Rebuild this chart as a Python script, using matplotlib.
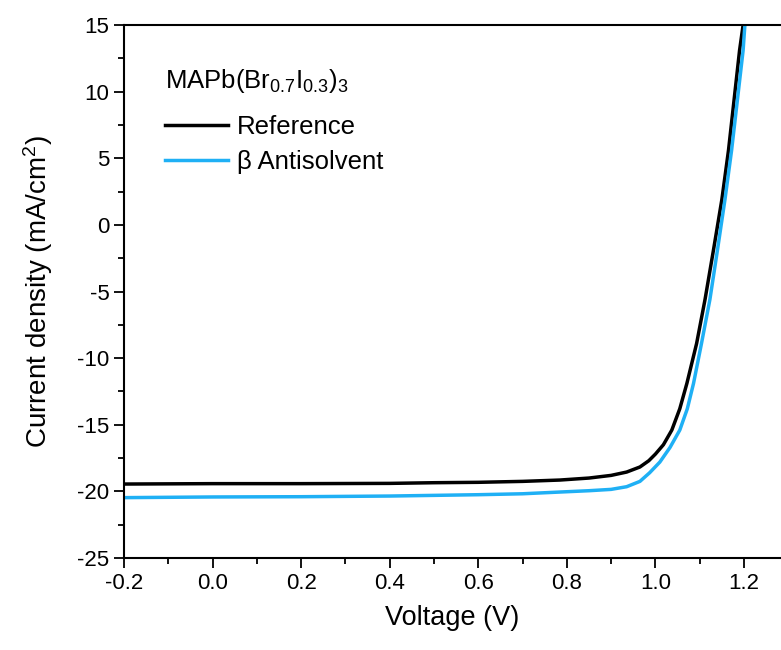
import numpy as np
import matplotlib
matplotlib.use("Agg")
import matplotlib.pyplot as plt
from matplotlib.ticker import MultipleLocator

plt.rcParams['font.family'] = ['Liberation Sans', 'DejaVu Sans']
plt.rcParams['mathtext.fontset'] = 'custom'
plt.rcParams['mathtext.rm'] = 'Liberation Sans'
plt.rcParams['mathtext.it'] = 'Liberation Sans:italic'

# J-V data
v_ref = [-0.2, 0.0, 0.2, 0.4, 0.5, 0.6, 0.7, 0.784, 0.85, 0.9, 0.935, 0.965,
         0.985, 1.0, 1.018, 1.037, 1.055, 1.071, 1.093, 1.112, 1.131, 1.150,
         1.165, 1.19, 1.198]
j_ref = [-19.45, -19.42, -19.42, -19.4, -19.35, -19.32, -19.25, -19.15, -19.0,
         -18.8, -18.55, -18.17, -17.7, -17.2, -16.5, -15.4, -13.8, -11.9, -8.9,
         -5.6, -1.9, 1.9, 5.6, 13.1, 15.0]

v_beta = [-0.2, 0.0, 0.2, 0.4, 0.5, 0.6, 0.7, 0.784, 0.85, 0.9, 0.935, 0.965,
          0.987, 1.01, 1.033, 1.055, 1.072, 1.086, 1.104, 1.123, 1.140, 1.157,
          1.172, 1.198, 1.202]
j_beta = [-20.47, -20.42, -20.4, -20.35, -20.3, -20.25, -20.18, -20.05, -19.95,
          -19.85, -19.65, -19.25, -18.6, -17.8, -16.7, -15.4, -13.8, -11.9, -8.9,
          -5.6, -1.9, 1.9, 5.6, 13.1, 15.0]

fig = plt.figure(figsize=(7.81, 6.5), dpi=100)
ax = fig.add_axes([124/781, 92/650, 1 - 124/781, 533/650])

l1, = ax.plot(v_ref, j_ref, color='black', lw=2.5, label='Reference')
l2, = ax.plot(v_beta, j_beta, color='#1fb0f5', lw=2.5, label='\u03b2 Antisolvent')

ax.set_xlim(-0.2, 1.2 + 37 * 1.4 / 620)
ax.set_ylim(-25, 15)
ax.xaxis.set_minor_locator(MultipleLocator(0.1))
ax.yaxis.set_minor_locator(MultipleLocator(2.5))
ax.set_xticks(np.arange(-0.2, 1.21, 0.2))
ax.set_xticklabels(['-0.2', '0.0', '0.2', '0.4', '0.6', '0.8', '1.0', '1.2'])
ax.set_yticks(np.arange(-25, 16, 5))
ax.set_yticklabels([str(int(t)) for t in np.arange(-25, 16, 5)])
ax.tick_params(which='major', direction='out', length=7, width=1.3, labelsize=16)
ax.tick_params(which='minor', direction='out', length=4, width=1.3)
ax.spines['right'].set_visible(False)
for s in ['left', 'bottom', 'top']:
    ax.spines[s].set_linewidth(1.5)

ax.set_xlabel('Voltage (V)', fontsize=19.5, labelpad=8)
ax.set_ylabel('Current density (mA/cm$^2$)', fontsize=20, labelpad=16)

# legend title written separately, then the two lines below it
ax.text(0.0624, 0.895, 'MAPb(Br$_{0.7}$I$_{0.3}$)$_3$', transform=ax.transAxes,
        fontsize=18.5, va='center', ha='left')
ax.legend(handles=[l1, l2], loc='upper left', bbox_to_anchor=(0.0624, 0.832),
          frameon=False, fontsize=18.5, handlelength=2.45, handletextpad=0.35,
          labelspacing=0.45, borderpad=0, borderaxespad=0)

fig.savefig('out.png', dpi=100)
